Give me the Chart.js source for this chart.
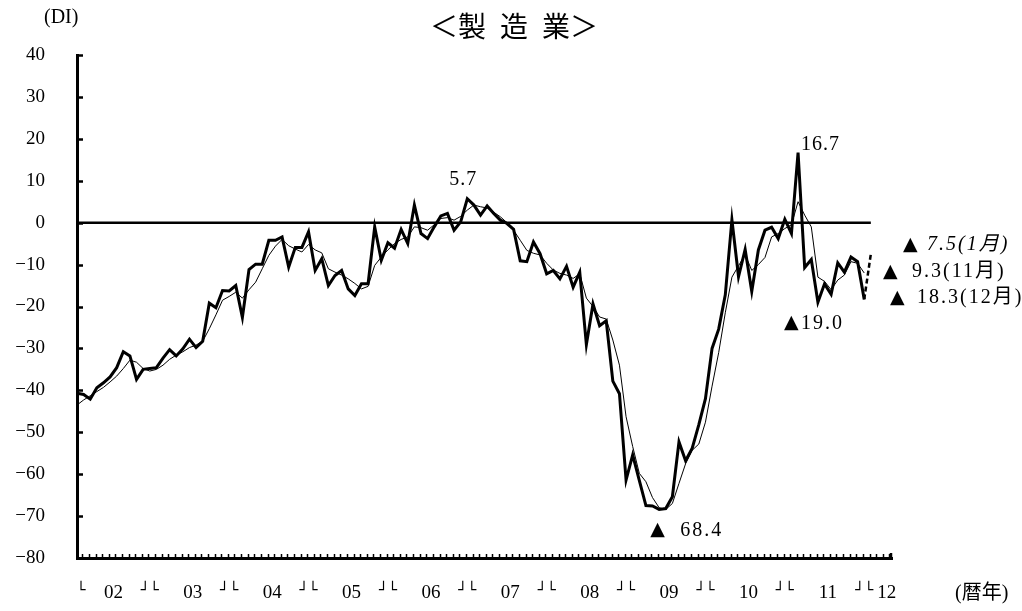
<!DOCTYPE html>
<html>
<head>
<meta charset="utf-8">
<script src="https://cdn.jsdelivr.net/npm/chart.js@4"></script>
<style>
  html, body { margin: 0; padding: 0; background: #fff; }
</style>
</head>
<body>
<canvas id="chart" width="1022" height="611"></canvas>
<script>
// year labels on the x axis (calendar year, 2002 - 2012)
const years = ['02', '03', '04', '05', '06', '07', '08', '09', '10', '11', '12'];

// monthly DI, Jan 2002 .. Dec 2011 (bold line)
const actual = [
  -40.7, -41.0, -42.1, -39.4, -38.2, -36.8, -34.6, -30.8, -31.8, -37.4, -35.0, -34.8,
  -34.6, -32.3, -30.3, -31.8, -30.1, -27.8, -29.8, -28.3, -19.2, -20.3, -16.2, -16.3,
  -15.0, -22.6, -11.2, -9.9, -9.9, -4.2, -4.2, -3.4, -10.6, -5.9, -5.9, -2.2,
  -11.4, -8.6, -15.0, -12.6, -11.4, -15.8, -17.4, -14.6, -14.6, -1.0, -9.0, -4.8,
  -6.1, -1.6, -5.0, 4.2, -2.6, -3.8, -1.0, 1.6, 2.2, -1.8, 0.2, 5.7,
  4.2, 1.8, 4.0, 2.2, 0.6, -0.2, -1.6, -9.1, -9.3, -4.6, -7.4, -12.2,
  -11.4, -13.4, -10.4, -15.4, -11.8, -29.1, -19.4, -24.6, -23.4, -37.8, -40.8, -61.4,
  -55.4, -61.5, -67.5, -67.6, -68.4, -68.2, -65.4, -52.3, -56.8, -53.8, -48.2, -42.0,
  -30.0, -25.4, -17.2, 0.7, -12.9, -6.4, -16.4, -6.5, -1.8, -1.1, -3.8, 0.8,
  -2.6, 16.7, -10.7, -8.8, -19.0, -14.6, -17.1, -9.6, -11.8, -8.2, -9.3, -18.3
];

// smoothed series (thin line)
const trend = [
  -43.5, -42.3, -41.3, -40.3, -39.3, -38.0, -36.6, -34.8, -32.8, -33.3, -34.8, -35.4,
  -35.0, -34.0, -32.6, -31.6, -30.8, -29.8, -29.2, -28.3, -25.3, -22.0, -18.5, -17.6,
  -16.6, -18.0, -16.0, -14.2, -11.0, -7.8, -5.6, -4.0, -5.5, -6.3, -7.0, -5.2,
  -6.5, -7.2, -11.0, -11.8, -12.5, -13.4, -14.5, -15.8, -15.2, -10.2, -8.2, -6.5,
  -5.0, -4.0, -3.4, -1.0, -1.2, -1.8, -0.5, 1.0, 1.2, 0.6, 1.5, 3.0,
  4.2, 3.8, 3.5, 2.5, 1.4, 0.0, -1.8, -4.2, -6.6, -7.3, -7.7, -9.7,
  -11.3, -12.1, -12.5, -13.3, -12.2, -18.0, -20.0, -22.5, -23.0, -28.0, -34.0, -46.3,
  -53.4, -59.8, -61.8, -65.6, -68.0, -68.4, -67.0, -62.2, -57.5, -54.3, -52.8, -47.6,
  -39.0, -31.0, -21.5, -13.0, -10.3, -7.6, -11.4, -10.0, -8.3, -3.4, -2.6, -1.4,
  -0.5, 5.0, 1.8, -1.0, -13.0, -14.0, -16.0, -13.7, -12.5, -9.3, -9.7, -12.0
];

// forecast for Jan 2012
const forecast = -7.5;

// x tick positions (month index) and their texts
const xTickPos = [0.6];
const xTickText = ['└'];
years.forEach((y, i) => {
  if (i > 0) { xTickPos.push(12 * i - 1); xTickText.push('┘└'); }
  xTickPos.push(i < years.length - 1 ? 12 * i + 5.5 : 122.4);
  xTickText.push(y);
});

const SERIF = '"Liberation Serif", "DejaVu Sans", "Noto Sans CJK JP"';

const toXY = arr => arr.map((v, i) => ({ x: i, y: v }));

// a "▲ value" note: triangle at tx, text starting at x
function note(ctx, tx, x, y, text, italic) {
  ctx.textAlign = 'left';
  ctx.letterSpacing = '0px';
  ctx.font = '19px "DejaVu Sans"';
  ctx.fillText('▲', tx, y);
  ctx.letterSpacing = '2px';
  ctx.font = (italic ? 'italic ' : '') + '20px ' + SERIF;
  ctx.fillText(text, x, y);
}

const decorations = {
  id: 'decorations',
  afterDraw(chart) {
    const { ctx, chartArea: a, scales: { x, y } } = chart;
    ctx.save();
    ctx.strokeStyle = '#000';

    // inward ticks on the y axis
    ctx.lineWidth = 2.5;
    for (let v = -80; v <= 40; v += 10) {
      const py = Math.round(y.getPixelForValue(v)) + 0.5;
      ctx.beginPath();
      ctx.moveTo(a.left, py);
      ctx.lineTo(a.left + 6, py);
      ctx.stroke();
    }

    // monthly ruler on the x axis
    ctx.lineWidth = 1.5;
    for (let k = 0; k <= 122; k++) {
      const px = Math.round(x.getPixelForValue(k + 0.8)) + 0.5;
      ctx.beginPath();
      ctx.moveTo(px, a.bottom);
      ctx.lineTo(px, a.bottom - 4);
      ctx.stroke();
    }
    ctx.lineWidth = 2.5;
    ctx.beginPath();
    ctx.moveTo(a.right - 1, a.bottom);
    ctx.lineTo(a.right - 1, a.bottom - 5);
    ctx.stroke();

    ctx.fillStyle = '#000';
    ctx.textBaseline = 'middle';

    // title
    ctx.textAlign = 'center';
    ctx.font = '28px "Noto Sans CJK JP"';
    ctx.fillText('＜製\u2002造\u2002業＞', 514, 26);

    // peak labels
    ctx.font = '20px ' + SERIF;
    ctx.letterSpacing = '1px';
    ctx.fillText('5.7', x.getPixelForValue(59) - 4, y.getPixelForValue(5.7) - 19);
    ctx.textAlign = 'left';
    ctx.fillText('16.7', x.getPixelForValue(109) + 3, y.getPixelForValue(16.7) - 8);

    // trough labels
    const p19 = x.getPixelForValue(112), p68 = x.getPixelForValue(88);
    note(ctx, p19 - 34, p19 - 17, y.getPixelForValue(-19.0) + 21, '19.0');
    note(ctx, p68 - 9, p68 + 21, y.getPixelForValue(-68.4) + 21, '68.4');

    // right-hand notes
    const r = a.right;
    note(ctx, r + 11, r + 35, 245, '7.5(1月)', true);
    note(ctx, r - 9, r + 20, 272, '9.3(11月)');
    note(ctx, r - 2, r + 25, 298, '18.3(12月)');

    // axis units
    ctx.letterSpacing = '0px';
    ctx.font = '20px ' + SERIF;
    ctx.fillText('(DI)', 44, 18);
    ctx.fillText('(暦年)', 955, 594);
    ctx.restore();
  }
};

new Chart(document.getElementById('chart'), {
  type: 'line',
  data: {
    datasets: [
      {
        data: [{ x: 0, y: 0 }, { x: actual.length, y: 0 }],
        borderColor: '#000', borderWidth: 2.5, pointRadius: 0
      },
      {
        data: toXY(trend),
        borderColor: '#000', borderWidth: 1, pointRadius: 0
      },
      {
        data: toXY(actual),
        borderColor: '#000', borderWidth: 3, pointRadius: 0
      },
      {
        data: [{ x: actual.length - 1, y: actual[actual.length - 1] }, { x: actual.length, y: forecast }],
        borderColor: '#000', borderWidth: 2.5, borderDash: [5, 3], pointRadius: 0
      }
    ]
  },
  options: {
    responsive: false,
    devicePixelRatio: 1,
    animation: false,
    layout: { padding: { left: 0, right: 130, top: 55, bottom: 0 } },
    plugins: {
      legend: { display: false },
      tooltip: { enabled: false },
      title: { display: false }
    },
    scales: {
      x: {
        type: 'linear',
        min: 0,
        max: 123.2,
        grid: { display: false, drawTicks: false },
        border: { display: true, color: '#000', width: 3 },
        afterFit(s) { s.height = 53; },
        afterBuildTicks(s) { s.ticks = xTickPos.map(v => ({ value: v })); },
        ticks: {
          autoSkip: false,
          maxRotation: 0,
          minRotation: 0,
          padding: 24,
          color: '#000',
          font: c => (xTickText[c.index] || '').match(/[┘└]/)
            ? { family: '"DejaVu Sans Mono", "DejaVu Sans"', size: 15 }
            : { family: '"Liberation Serif"', size: 19 },
          callback: (v, i) => xTickText[i]
        }
      },
      y: {
        min: -80,
        max: 40,
        grid: { display: false, drawTicks: false },
        border: { display: true, color: '#000', width: 3 },
        afterFit(s) { s.width = 77; },
        ticks: {
          stepSize: 10,
          padding: 32,
          color: '#000',
          font: { family: '"Liberation Serif"', size: 19 },
          callback: v => (v < 0 ? '\u2212' + Math.abs(v) : String(v))
        }
      }
    }
  },
  plugins: [decorations]
});
</script>
</body>
</html>
